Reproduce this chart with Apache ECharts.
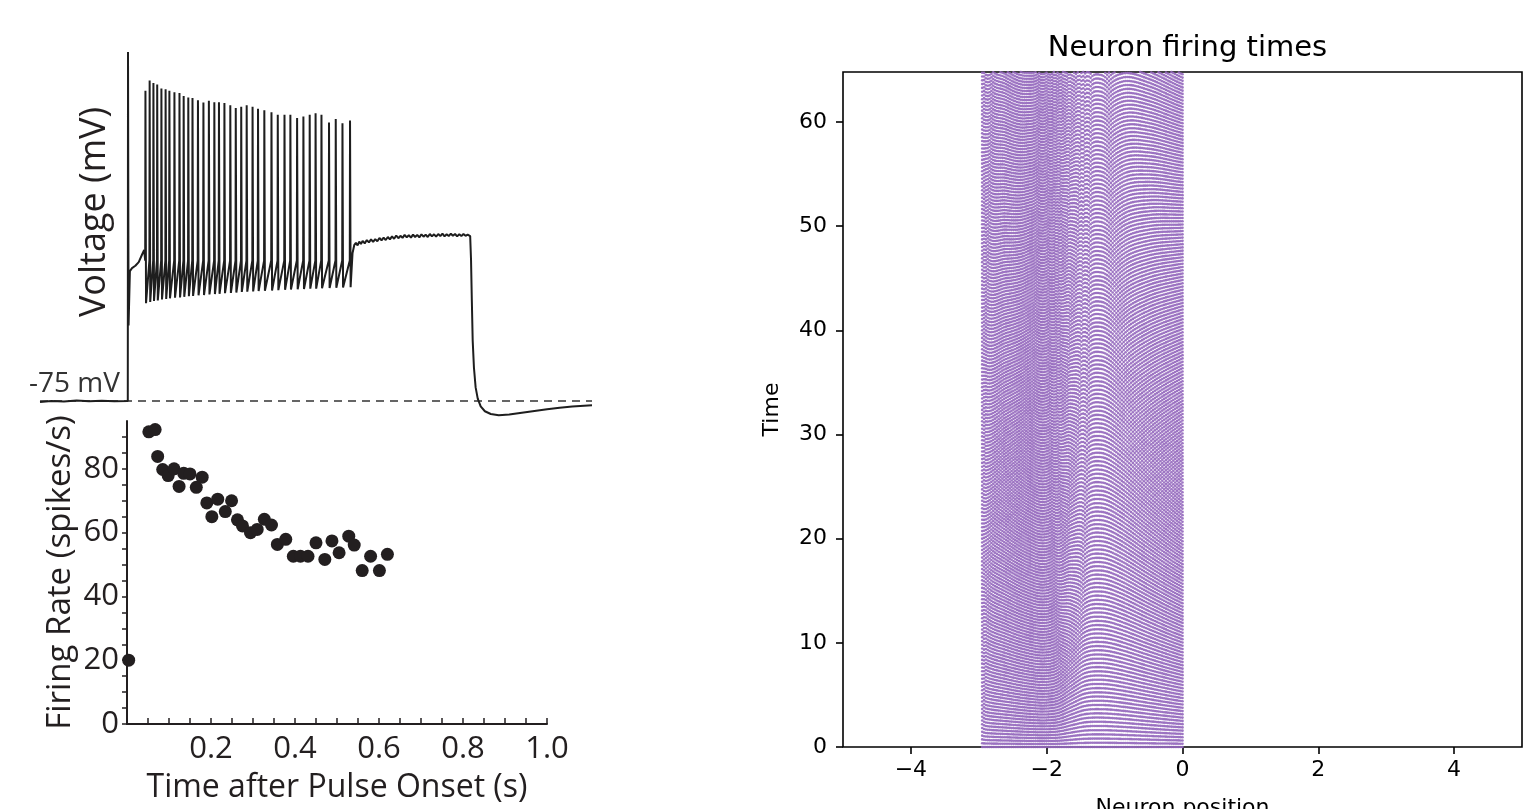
<!DOCTYPE html>
<html>
<head>
<meta charset="utf-8">
<script src="https://cdn.jsdelivr.net/npm/echarts@6/dist/echarts.min.js"></script>
<style>
  html, body { margin: 0; padding: 0; background: #fff; }
  #chart { width: 1531px; height: 809px; }
</style>
</head>
<body>
<div id="chart"></div>
<script>
// ---------- Membrane voltage recording (time in s, voltage in mV) ----------
const restingPotential = -75;
const restTrace = [[-0.207, -75.3], [-0.18, -75.0], [-0.15, -75.2], [-0.12, -74.8], [-0.09, -75.1],
  [-0.06, -74.9], [-0.03, -75.1], [0.002, -75.0]];
const onsetTrace = [[0.0025, 40.6], [0.0038, -50], [0.007, -32], [0.012, -31], [0.02, -30.2],
  [0.028, -29], [0.036, -26.5], [0.041, -25]];
const spikeThreshold = -28.5;
const spikeTimes = [0.044, 0.054, 0.063, 0.072, 0.082, 0.092, 0.101, 0.113, 0.125, 0.135,
  0.146, 0.156, 0.169, 0.182, 0.195, 0.208, 0.219, 0.232, 0.246, 0.259,
  0.272, 0.285, 0.299, 0.312, 0.327, 0.344, 0.359, 0.375, 0.389, 0.405,
  0.420, 0.435, 0.449, 0.463, 0.481, 0.497, 0.513, 0.531];
const spikePeaks = [27.7, 31.1, 30.3, 29.8, 28.5, 28.2, 27.7, 27.2, 27.0, 26.0,
  25.5, 25.3, 24.6, 23.8, 24.4, 23.9, 23.9, 23.7, 22.9, 22.0,
  22.4, 22.9, 22.4, 21.8, 21.3, 20.6, 19.8, 19.8, 19.8, 18.7,
  19.2, 19.8, 20.3, 19.8, 17.2, 18.4, 17.0, 17.9];
const spikeTroughs = [-42.6, -42.2, -41.9, -41.7, -41.4, -41.2, -41.0, -40.8, -40.7, -40.5,
  -40.3, -40.2, -40.0, -39.9, -39.7, -39.6, -39.5, -39.3, -39.2, -39.1,
  -38.9, -38.8, -38.7, -38.6, -38.5, -38.4, -38.3, -38.2, -38.1, -38.0,
  -37.9, -37.8, -37.8, -37.7, -37.6, -37.5, -37.4, -37.3];
const plateauTrace = [[0.537, -26], [0.541, -23.4], [0.545, -22.6], [0.549, -23.5], [0.553, -22.2],
  [0.557, -23.0], [0.561, -22.0], [0.566, -22.8], [0.571, -21.7], [0.576, -22.5], [0.581, -21.5],
  [0.586, -22.3], [0.591, -21.4], [0.596, -22.1], [0.601, -21.0], [0.606, -21.8], [0.611, -20.9],
  [0.616, -21.7], [0.621, -20.7], [0.626, -21.5], [0.631, -20.5], [0.636, -21.3], [0.641, -20.2],
  [0.646, -21.1], [0.651, -20.3], [0.656, -21.0], [0.661, -20.0], [0.666, -20.8], [0.671, -20.1],
  [0.676, -20.9], [0.681, -19.9], [0.686, -20.7], [0.691, -20.0], [0.696, -20.8], [0.701, -19.8],
  [0.706, -20.6], [0.711, -19.9], [0.716, -20.7], [0.721, -19.7], [0.726, -20.5], [0.731, -19.8],
  [0.736, -20.6], [0.741, -19.7], [0.746, -20.4], [0.751, -19.6], [0.756, -20.5], [0.761, -19.8],
  [0.766, -20.4], [0.771, -19.6], [0.776, -20.3], [0.781, -19.7], [0.786, -20.5], [0.791, -19.8],
  [0.796, -20.4], [0.801, -19.7], [0.806, -20.3], [0.811, -19.9], [0.817, -20.4]];
const offsetTrace = [[0.819, -28], [0.821, -42], [0.823, -55], [0.826, -64], [0.830, -70.5],
  [0.835, -74.2], [0.842, -76.8], [0.852, -78.4], [0.866, -79.3], [0.885, -79.7], [0.91, -79.5],
  [0.94, -78.9], [0.97, -78.3], [1.0, -77.7], [1.03, -77.2], [1.06, -76.8], [1.107, -76.4]];

// ---------- Instantaneous firing rate (spikes/s) ----------
const rateTimes = [0.004, 0.052, 0.067, 0.073, 0.085, 0.098, 0.112, 0.124, 0.135, 0.150,
  0.165, 0.179, 0.190, 0.202, 0.216, 0.234, 0.249, 0.263, 0.275, 0.294,
  0.310, 0.327, 0.344, 0.358, 0.378, 0.396, 0.413, 0.431, 0.450, 0.471,
  0.488, 0.505, 0.528, 0.541, 0.560, 0.580, 0.601, 0.620];
const rateValues = [20, 91.6, 92.3, 83.9, 79.8, 77.9, 80, 74.5, 78.6, 78.4,
  74.2, 77.4, 69.3, 65, 70.5, 66.6, 70, 64, 62.1, 60,
  61, 64.2, 62.4, 56.3, 57.9, 52.6, 52.6, 52.6, 56.8, 51.6,
  57.4, 53.7, 58.9, 56.1, 48.1, 52.6, 48.1, 53.2];
const rateXLabels = [0.2, 0.4, 0.6, 0.8, 1.0];
const rateYLabels = [0, 20, 40, 60, 80];

// ---------- Neuron firing times (chain of oscillators) ----------
const neuronCount = 110;
const neuronSpan = [-2.95, 0];
const freqKnotPos = [-2.95, -2.9, -2.6, -2.3, -2.05, -1.85, -1.65, -1.45, -1.2, -0.9, -0.5, 0.0];
const freqKnotHz = [2.75, 2.97, 3.22, 3.43, 3.53, 3.40, 2.91, 2.55, 2.48, 2.58, 2.83, 3.19];
const simDuration = 64.8;
const firingXTicks = [-4, -2, 0, 2, 4];
const firingYTicks = [0, 10, 20, 30, 40, 50, 60];

// Membrane trace: resting level, onset, spike train, plateau and repolarisation
function buildTrace() {
  const pts = restTrace.concat(onsetTrace);
  spikeTimes.forEach((t, i) => {
    pts.push([t - 0.0006, spikeThreshold]);
    pts.push([t, spikePeaks[i]]);
    pts.push([t + 0.0014, spikeTroughs[i]]);
  });
  return pts.concat(plateauTrace, offsetTrace);
}

// Cubic Hermite curve through the frequency knots
function neuronFrequency(x) {
  const xs = freqKnotPos, ys = freqKnotHz, n = xs.length;
  const slope = i => {
    if (i === 0) return (ys[1] - ys[0]) / (xs[1] - xs[0]);
    if (i === n - 1) return (ys[n - 1] - ys[n - 2]) / (xs[n - 1] - xs[n - 2]);
    return (ys[i + 1] - ys[i - 1]) / (xs[i + 1] - xs[i - 1]);
  };
  let i = 0;
  while (i < n - 2 && x > xs[i + 1]) i++;
  const h = xs[i + 1] - xs[i], s = (x - xs[i]) / h;
  const h00 = 2 * s * s * s - 3 * s * s + 1, h10 = s * s * s - 2 * s * s + s;
  const h01 = -2 * s * s * s + 3 * s * s, h11 = s * s * s - s * s;
  return h00 * ys[i] + h10 * h * slope(i) + h01 * ys[i + 1] + h11 * h * slope(i + 1);
}

// Each neuron fires periodically from t = 0 at its own rate
function buildFiringTimes() {
  const pts = [];
  for (let j = 0; j < neuronCount; j++) {
    const pos = neuronSpan[0] + j * (neuronSpan[1] - neuronSpan[0]) / (neuronCount - 1);
    const f = neuronFrequency(pos);
    for (let k = 0; k / f <= simDuration; k++) pts.push([pos, k / f]);
  }
  return pts;
}

const range = (a, b, step) => { const out = []; for (let v = a; v <= b + 1e-9; v += step) out.push(+v.toFixed(4)); return out; };

const leftFont = 'Open Sans';
const leftInk = '#231f20';
const mplFont = 'DejaVu Sans';

const chart = echarts.init(document.getElementById('chart'), null, { renderer: 'canvas' });
chart.setOption({
  animation: false,
  backgroundColor: '#fff',
  title: {
    text: 'Neuron firing times', left: 1182.5, top: 29, textAlign: 'center',
    textStyle: { fontFamily: mplFont, fontSize: 29, fontWeight: 'normal', color: '#000' }
  },
  grid: [
    { left: 40, top: 38.6, width: 552, height: 377.5, outerBoundsMode: 'none' },
    { left: 127, top: 421, width: 420, height: 303, outerBoundsMode: 'none' },
    { left: 843, top: 72, width: 679, height: 675, show: true, borderColor: '#000', borderWidth: 1.6, outerBoundsMode: 'none' }
  ],
  xAxis: [
    { gridIndex: 0, type: 'value', min: -0.207, max: 1.107, show: false },
    {
      gridIndex: 1, type: 'value', min: 0, max: 1,
      axisLine: { onZero: false, lineStyle: { color: leftInk, width: 2 } },
      axisTick: { inside: true, length: 6, lineStyle: { color: leftInk, width: 1.5 }, customValues: range(0, 1, 0.05) },
      axisLabel: { customValues: rateXLabels, formatter: v => v.toFixed(1), fontFamily: leftFont, fontSize: 31, color: leftInk, margin: 10 },
      splitLine: { show: false },
      name: 'Time after Pulse Onset (s)', nameLocation: 'middle', nameGap: 48,
      nameTextStyle: { fontFamily: leftFont, fontSize: 32, color: leftInk }
    },
    {
      gridIndex: 2, type: 'value', min: -5, max: 5,
      axisLine: { show: false, onZero: false },
      axisTick: { length: 7, lineStyle: { color: '#000', width: 1.6 }, customValues: firingXTicks },
      axisLabel: { customValues: firingXTicks, formatter: v => String(v).replace('-', '\u2212'), fontFamily: mplFont, fontSize: 22, color: '#000', margin: 12 },
      splitLine: { show: false },
      name: 'Neuron position', nameLocation: 'middle', nameGap: 50,
      nameTextStyle: { fontFamily: mplFont, fontSize: 22, color: '#000' }
    }
  ],
  yAxis: [
    { gridIndex: 0, type: 'value', min: -80, max: 45, show: false },
    {
      gridIndex: 1, type: 'value', min: 0, max: 95,
      axisLine: { show: true, onZero: false, lineStyle: { color: leftInk, width: 2 } },
      axisTick: { show: true, length: 5, lineStyle: { color: leftInk, width: 1.5 }, customValues: range(0, 90, 5) },
      axisLabel: { customValues: rateYLabels, fontFamily: leftFont, fontSize: 31, color: leftInk, margin: 8 },
      splitLine: { show: false },
      name: 'Firing Rate (spikes/s)', nameLocation: 'middle', nameGap: 50,
      nameTextStyle: { fontFamily: leftFont, fontSize: 33, color: leftInk }
    },
    {
      gridIndex: 2, type: 'value', min: 0, max: simDuration,
      axisLine: { show: false, onZero: false },
      axisTick: { show: true, length: 7, lineStyle: { color: '#000', width: 1.6 }, customValues: firingYTicks },
      axisLabel: { customValues: firingYTicks, fontFamily: mplFont, fontSize: 22, color: '#000', margin: 16 },
      splitLine: { show: false },
      name: 'Time', nameLocation: 'middle', nameGap: 60,
      nameTextStyle: { fontFamily: mplFont, fontSize: 22, color: '#000' }
    }
  ],
  graphic: [
    {
      type: 'text', x: 95, y: 212, rotation: Math.PI / 2,
      style: { text: 'Voltage (mV)', fontFamily: leftFont, fontSize: 36, fill: leftInk, align: 'center', verticalAlign: 'middle' }
    },
    {
      type: 'text', x: 29, y: 384,
      style: { text: '-75 mV', fontFamily: leftFont, fontSize: 28, fill: '#333', align: 'left', verticalAlign: 'middle' }
    }
  ],
  series: [
    {
      type: 'line', xAxisIndex: 0, yAxisIndex: 0, data: [[-0.207, restingPotential], [1.107, restingPotential]],
      symbol: 'none', lineStyle: { color: '#333', width: 1.6, type: [8, 6] }, z: 1
    },
    {
      type: 'line', xAxisIndex: 0, yAxisIndex: 0, data: buildTrace(),
      symbol: 'none', lineStyle: { color: '#1e1e1e', width: 2 }, z: 2
    },
    {
      type: 'scatter', xAxisIndex: 1, yAxisIndex: 1,
      data: rateTimes.map((t, i) => [t, rateValues[i]]),
      symbolSize: 13, itemStyle: { color: leftInk, opacity: 1 }
    },
    {
      type: 'scatter', xAxisIndex: 2, yAxisIndex: 2, data: buildFiringTimes(),
      symbolSize: 2.6, large: false, progressive: 0,
      itemStyle: { color: '#9467bd', opacity: 0.9 }
    }
  ]
});
</script>
</body>
</html>
